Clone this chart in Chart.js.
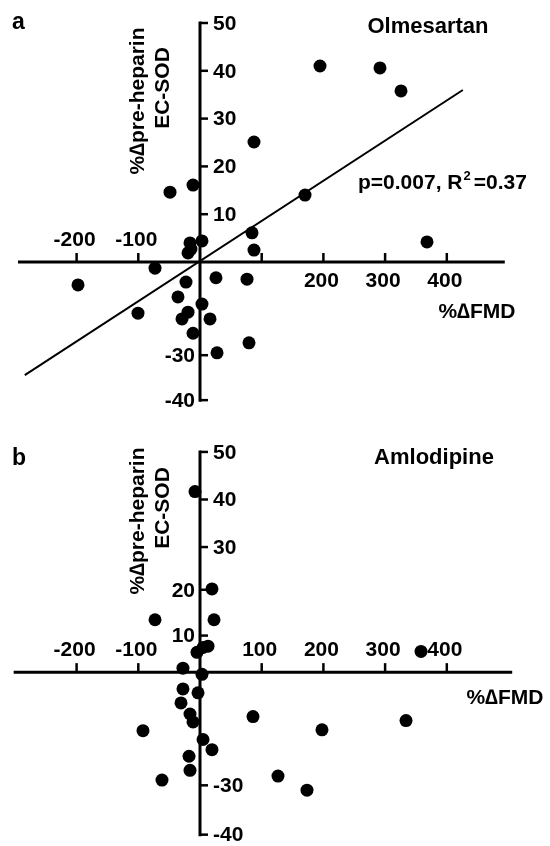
<!DOCTYPE html>
<html><head><meta charset="utf-8">
<script src="https://cdn.jsdelivr.net/npm/chart.js@4.4.1/dist/chart.umd.min.js"></script>
<style>
html,body{margin:0;padding:0;background:#fff;}
#wrap{position:relative;width:550px;height:846px;background:#fff;}
.panel{position:absolute;left:0;width:550px;height:423px;}
</style></head><body>
<div id="wrap">
<div class="panel" style="top:0"><canvas id="ca" width="550" height="423"></canvas></div>
<div class="panel" style="top:423px"><canvas id="cb" width="550" height="423"></canvas></div>
</div>
<script>
// ---- data ----
const olmFMD   = [194.5, 291.7, 325.8, 87.5, -48.6, -11.3, 170.2, 367.9, -16.2, 3.2, -19.4, -14.6, 84.3, 87.5, -72.9, -22.7, 25.9, 76.2, -35.7, 3.2, -19.4, -29.2, 16.2, -11.3, 79.4, 27.6, -100.5, -197.7];
const olmECSOD = [41.0, 40.6, 35.8, 25.1, 14.6, 16.1, 14.0, 4.2, 4.0, 4.4, 1.9, 2.7, 6.1, 2.5, -1.3, -4.2, -3.3, -3.6, -7.3, -8.8, -10.5, -11.9, -11.9, -14.9, -16.9, -19.0, -10.7, -4.8];
const amlFMD   = [-8.1, 19.4, 22.7, -72.9, -4.9, 4.9, 13.0, -27.6, 3.2, -27.6, -30.8, -3.2, -16.2, -11.3, 85.9, -92.4, 4.9, 19.4, -17.8, -16.2, -61.6, 358.2, 333.9, 197.7, 126.4, 173.4];
const amlECSOD = [41.0, 18.9, 11.9, 11.9, 4.5, 5.6, 5.9, 0.9, -0.5, -3.8, -7.0, -4.7, -9.5, -11.3, -10.1, -13.3, -15.3, -17.6, -19.1, -22.3, -24.5, 4.7, -11.0, -13.1, -23.6, -26.8];

const xTickValues  = [-200, -100, 100, 200, 300, 400];
const xTickLabelsA = ['-200', '-100', '', '200', '300', '400'];
const xTickLabelsB = ['-200', '-100', '100', '200', '300', '400'];
const yTickLabels  = ['50', '40', '30', '20', '10', '-30', '-40'];
const yTickValuesA = [50, 40, 30, 20, 10, -19.5, -28.9];
const yTickValuesB = [50, 39.2, 28.4, 18.7, 8.3, -25.7, -36.9];

const fitSlopeA = 0.084;
const fitInterceptA = 0.2;
const fitRangeA = [-284, 426];

const FONT = '"Liberation Sans", Arial, sans-serif';

function axesPlugin(cfg) {
  return {
    id: 'axes_' + cfg.id,
    beforeDatasetsDraw(chart) {
      const ctx = chart.ctx, xs = chart.scales.x, ys = chart.scales.y;
      const x0 = xs.getPixelForValue(0), y0 = ys.getPixelForValue(0);
      ctx.save();
      ctx.strokeStyle = '#000'; ctx.fillStyle = '#000';
      ctx.lineWidth = 3; ctx.lineCap = 'butt';
      // x axis
      ctx.beginPath();
      ctx.moveTo(xs.getPixelForValue(cfg.xAxisFrom), y0);
      ctx.lineTo(xs.getPixelForValue(cfg.xAxisTo), y0);
      ctx.stroke();
      // y axis
      const yv = cfg.yTicks;
      const yTop = ys.getPixelForValue(Math.max(...yv)), yBot = ys.getPixelForValue(Math.min(...yv));
      ctx.beginPath();
      ctx.moveTo(x0, yTop - 1.5); ctx.lineTo(x0, yBot + 1.5); ctx.stroke();
      // ticks
      ctx.lineWidth = 2.5;
      xTickValues.forEach(v => {
        const px = xs.getPixelForValue(v);
        ctx.beginPath(); ctx.moveTo(px, y0); ctx.lineTo(px, y0 - 9); ctx.stroke();
      });
      yv.forEach(v => {
        const py = ys.getPixelForValue(v);
        ctx.beginPath(); ctx.moveTo(x0, py); ctx.lineTo(x0 + 8, py); ctx.stroke();
      });
      // tick labels
      ctx.font = 'bold 21px ' + FONT;
      ctx.textBaseline = 'middle';
      ctx.textAlign = 'center';
      xTickValues.forEach((v, i) => {
        const lab = cfg.xLabels[i];
        if (!lab) return;
        const px = xs.getPixelForValue(v);
        const above = cfg.xSide[i] === 'a';
        ctx.fillText(lab, px - 2, above ? y0 - 22 : y0 + 19);
      });
      yv.forEach((v, i) => {
        const py = ys.getPixelForValue(v);
        if (cfg.ySide[i] === 'r') { ctx.textAlign = 'left'; ctx.fillText(yTickLabels[i], x0 + 13, py + 1); }
        else { ctx.textAlign = 'right'; ctx.fillText(yTickLabels[i], x0 - 5, py + 1); }
      });
      ctx.restore();
    },
    afterDraw(chart) {
      const ctx = chart.ctx;
      ctx.save();
      ctx.fillStyle = '#000';
      // panel letter
      ctx.font = 'bold 23px ' + FONT;
      ctx.textAlign = 'left'; ctx.textBaseline = 'alphabetic';
      ctx.fillText(cfg.letter, 12, cfg.letterY);
      // drug name
      ctx.font = 'bold 22px ' + FONT;
      ctx.textAlign = 'center';
      ctx.fillText(cfg.title, cfg.titleX, cfg.titleY);
      // y axis title
      ctx.font = 'bold 21px ' + FONT;
      ctx.textBaseline = 'middle';
      cfg.yTitle.forEach(t => {
        ctx.save();
        ctx.translate(t.x, t.y);
        ctx.rotate(-Math.PI / 2);
        ctx.fillText(t.text, 0, 0);
        ctx.restore();
      });
      // x axis title
      ctx.fillText('%\u2206FMD', cfg.xTitleX, cfg.xTitleY);
      // stats
      if (cfg.stats) {
        ctx.textAlign = 'left'; ctx.textBaseline = 'alphabetic';
        ctx.font = 'bold 21px ' + FONT;
        let x = cfg.stats.x; const y = cfg.stats.y;
        const t1 = 'p=0.007, R';
        ctx.fillText(t1, x, y); x += ctx.measureText(t1).width + 1;
        ctx.font = 'bold 13px ' + FONT;
        ctx.fillText('2', x, y - 9); x += ctx.measureText('2').width + 3;
        ctx.font = 'bold 21px ' + FONT;
        ctx.fillText('=0.37', x, y);
      }
      ctx.restore();
    }
  };
}

function makeChart(cfg) {
  const pts = cfg.xs.map((x, i) => ({ x: x, y: cfg.ys[i] }));
  const datasets = [{
    type: 'scatter', data: pts, pointRadius: 6.5, pointHoverRadius: 6.5,
    pointBackgroundColor: '#000', pointBorderColor: '#000', pointBorderWidth: 0,
    clip: false, order: 1
  }];
  if (cfg.fit) {
    datasets.push({
      type: 'line',
      data: cfg.fit.range.map(x => ({ x: x, y: cfg.fit.slope * x + cfg.fit.intercept })),
      borderColor: '#000', borderWidth: 2, pointRadius: 0, fill: false, clip: false, order: 2
    });
  }
  return new Chart(document.getElementById(cfg.id), {
    type: 'scatter',
    data: { datasets: datasets },
    options: {
      responsive: false, animation: false, devicePixelRatio: 1,
      layout: { padding: cfg.padding },
      plugins: { legend: { display: false }, tooltip: { enabled: false } },
      events: [],
      scales: {
        x: { type: 'linear', min: -300, max: 500, display: false },
        y: { type: 'linear', min: cfg.yMin, max: cfg.yMax, display: false }
      }
    },
    plugins: [axesPlugin(cfg)]
  });
}

makeChart({
  id: 'ca', xs: olmFMD, ys: olmECSOD,
  fit: { slope: fitSlopeA, intercept: fitInterceptA, range: fitRangeA },
  padding: { left: 14.9, right: 41.5, top: 13.44, bottom: 8.04 },
  yMin: -32, yMax: 52,
  xAxisFrom: -295, xAxisTo: 494,
  yTicks: yTickValuesA, xLabels: xTickLabelsA,
  xSide: ['a', 'a', 'b', 'b', 'b', 'b'],
  ySide: ['r', 'r', 'r', 'r', 'r', 'l', 'l'],
  letter: 'a', letterY: 29,
  title: 'Olmesartan', titleX: 428, titleY: 33,
  yTitle: [{ text: '%\u2206pre-heparin', x: 138, y: 101 }, { text: 'EC-SOD', x: 163, y: 88 }],
  xTitleX: 477, xTitleY: 312,
  stats: { x: 358, y: 189 }
});

makeChart({
  id: 'cb', xs: amlFMD, ys: amlECSOD,
  padding: { left: 14.9, right: 41.5, top: 20.12, bottom: 3.28 },
  yMin: -38, yMax: 52,
  xAxisFrom: -302, xAxisTo: 506,
  yTicks: yTickValuesB, xLabels: xTickLabelsB,
  xSide: ['a', 'a', 'a', 'a', 'a', 'a'],
  ySide: ['r', 'r', 'r', 'l', 'l', 'r', 'r'],
  letter: 'b', letterY: 42,
  title: 'Amlodipine', titleX: 434, titleY: 41,
  yTitle: [{ text: '%\u2206pre-heparin', x: 138, y: 98 }, { text: 'EC-SOD', x: 163, y: 85 }],
  xTitleX: 505, xTitleY: 275,
  stats: null
});
</script>
</body></html>
